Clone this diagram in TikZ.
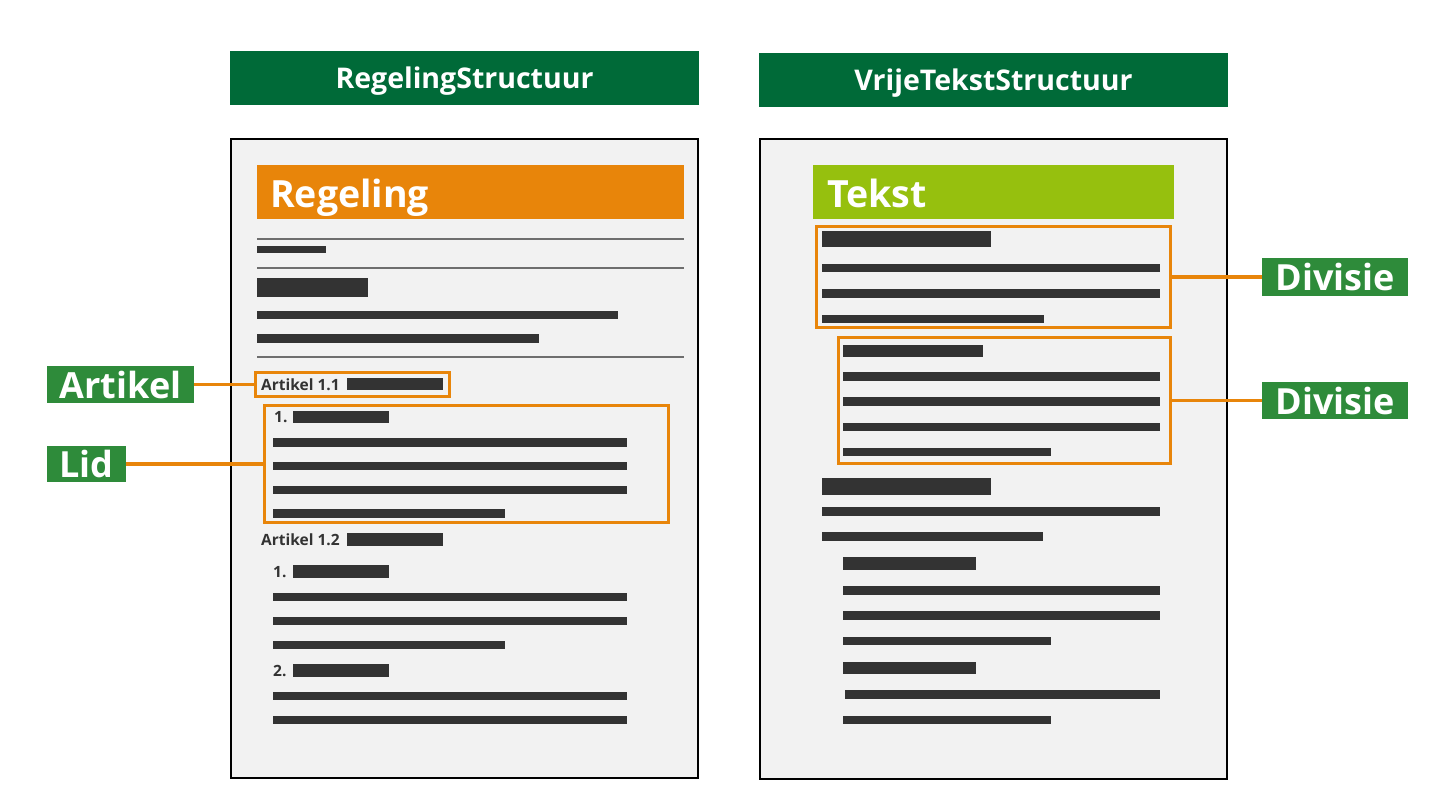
\documentclass[tikz,border=0pt]{standalone}
\usepackage{fontspec}
\setmainfont{Open Sans}
\definecolor{hdrgreen}{RGB}{0,106,56}
\definecolor{lblgreen}{RGB}{46,139,58}
\definecolor{oranje}{RGB}{232,133,10}
\definecolor{lime}{RGB}{150,192,14}
\definecolor{pagefill}{RGB}{242,242,242}
\definecolor{barcol}{RGB}{51,51,51}
\definecolor{rulecol}{RGB}{110,110,110}
\tikzset{
  hdr/.style={fill=hdrgreen, text=white, inner sep=0pt, minimum width=469pt, minimum height=54pt,
    font=\bfseries\fontsize{28.5}{34}\selectfont, text depth=0pt},
  lbl/.style={fill=lblgreen, text=white, inner sep=0pt,
    font=\bfseries\fontsize{36}{42}\selectfont, text depth=0pt},
  obox/.style={draw=oranje, line width=3.4pt, inner sep=0pt},
  conn/.style={draw=oranje, line width=3.2pt},
  pagebox/.style={draw=black, fill=pagefill, line width=2pt},
  bar/.style={fill=barcol},
  rulel/.style={draw=rulecol, line width=1.2pt},
  bigtxt/.style={text=white, inner sep=0pt, font=\bfseries\fontsize{37.5}{42}\selectfont},
  smalltxt/.style={text=barcol, inner sep=0pt, font=\bfseries\fontsize{15.5}{18}\selectfont},
}
\begin{document}
\begin{tikzpicture}[x=1pt,y=-1pt]
\useasboundingbox[fill=white] (0,0) rectangle (1436,804);

% headers
\node[hdr] (hdrL) at (464.5,78) {RegelingStructuur};
\node[hdr] (hdrR) at (993.5,80) {VrijeTekstStructuur};

% pages
\draw[pagebox] (231,139) rectangle (698,778);
\draw[pagebox] (760,139) rectangle (1227,779);

% ---------- left page ----------
\fill[oranje] (257,165) rectangle (684,219);
\node[bigtxt, anchor=base west] (regtxt) at (270,207) {Regeling};
\draw[rulel] (257,239) -- (684,239);
\fill[bar] (257,246) rectangle (326,253);
\draw[rulel] (257,268) -- (684,268);
\fill[bar] (257,278) rectangle (368,297);
\fill[bar] (257,311) rectangle (618,319);
\fill[bar] (257,334) rectangle (539,343);
\draw[rulel] (257,357) -- (684,357);

\node[smalltxt, anchor=base west] (a11) at (261,390) {Artikel 1.1};
\fill[bar] (347,378) rectangle (443,390);
\node[smalltxt, anchor=base west] (n1a) at (274,422) {1.};
\fill[bar] (293,411) rectangle (389,423);
\fill[bar] (273,438) rectangle (627,447);
\fill[bar] (273,462) rectangle (627,470);
\fill[bar] (273,486) rectangle (627,494);
\fill[bar] (273,509) rectangle (505,518);

\node[smalltxt, anchor=base west] (a12) at (261,545) {Artikel 1.2};
\fill[bar] (347,533) rectangle (443,546);
\node[smalltxt, anchor=base west] (n1b) at (273,577) {1.};
\fill[bar] (293,565) rectangle (389,578);
\fill[bar] (273,593) rectangle (627,601);
\fill[bar] (273,617) rectangle (627,625);
\fill[bar] (273,641) rectangle (505,649);
\node[smalltxt, anchor=base west] (n2b) at (273,676) {2.};
\fill[bar] (293,664) rectangle (389,677);
\fill[bar] (273,692) rectangle (627,700);
\fill[bar] (273,716) rectangle (627,724);

% orange boxes left
\node[obox, minimum width=194pt, minimum height=24pt] (artbox) at (352.5,384.5) {};
\node[obox, minimum width=404pt, minimum height=117pt] (lidbox) at (466.5,464) {};

% ---------- right page ----------
\fill[lime] (813,165) rectangle (1174,219);
\node[bigtxt, anchor=base west] (tekst) at (827,207) {Tekst};
\fill[bar] (822,231) rectangle (991,247);
\fill[bar] (822,264) rectangle (1160,272);
\fill[bar] (822,289) rectangle (1160,298);
\fill[bar] (822,315) rectangle (1044,323);
\fill[bar] (843,345) rectangle (983,357);
\fill[bar] (843,372) rectangle (1160,381);
\fill[bar] (843,397) rectangle (1160,406);
\fill[bar] (843,423) rectangle (1160,431);
\fill[bar] (843,448) rectangle (1051,456);
\fill[bar] (822,478) rectangle (991,495);
\fill[bar] (822,507) rectangle (1160,516);
\fill[bar] (822,532) rectangle (1043,541);
\fill[bar] (843,557) rectangle (976,570);
\fill[bar] (843,586) rectangle (1160,595);
\fill[bar] (843,611) rectangle (1160,620);
\fill[bar] (843,637) rectangle (1051,645);
\fill[bar] (843,662) rectangle (976,674);
\fill[bar] (845,690) rectangle (1160,699);
\fill[bar] (843,716) rectangle (1051,724);

\node[obox, minimum width=354pt, minimum height=101pt] (div1) at (993.5,277) {};
\node[obox, minimum width=332pt, minimum height=126pt] (div2) at (1004.5,400.5) {};

% labels
\node[lbl, minimum width=147pt, minimum height=37pt] (lArt) at (120.5,384.5) {Artikel};
\node[lbl, minimum width=79pt, minimum height=36pt] (lLid) at (86.5,464) {Lid};
\node[lbl, minimum width=146pt, minimum height=38pt] (lDiv1) at (1335,277) {Divisie};
\node[lbl, minimum width=146pt, minimum height=37pt] (lDiv2) at (1335,400.5) {Divisie};

% connectors
\draw[conn] (lArt.east) -- (artbox.west);
\draw[conn] (lLid.east) -- (lidbox.west);
\draw[conn] (div1.east) -- (lDiv1.west);
\draw[conn] (div2.east) -- (lDiv2.west);
\end{tikzpicture}
\end{document}
